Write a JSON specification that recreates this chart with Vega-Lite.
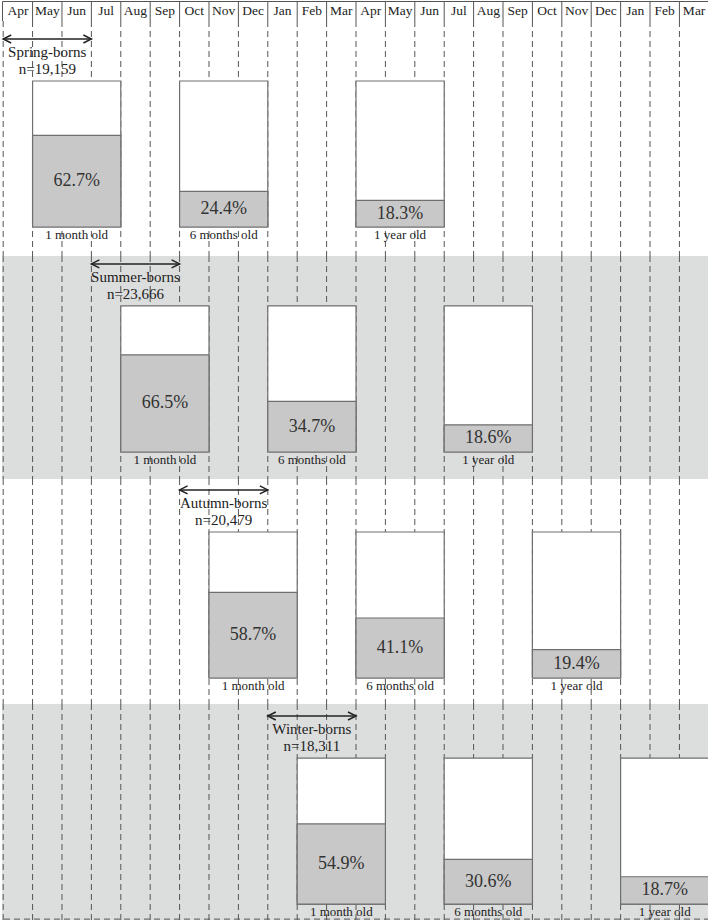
{
  "$schema": "https://vega.github.io/schema/vega-lite/v6.json",
  "padding": 0,
  "spacing": 0,
  "bounds": "flush",
  "background": "white",
  "config": {"view": {"stroke": null}, "concat": {"spacing": 0}, "text": {"font": "Liberation Serif", "color": "#222"}},
  "datasets": {
    "months": [
      {"idx": 0, "month": "Apr"}, {"idx": 1, "month": "May"}, {"idx": 2, "month": "Jun"}, {"idx": 3, "month": "Jul"},
      {"idx": 4, "month": "Aug"}, {"idx": 5, "month": "Sep"}, {"idx": 6, "month": "Oct"}, {"idx": 7, "month": "Nov"},
      {"idx": 8, "month": "Dec"}, {"idx": 9, "month": "Jan"}, {"idx": 10, "month": "Feb"}, {"idx": 11, "month": "Mar"},
      {"idx": 12, "month": "Apr"}, {"idx": 13, "month": "May"}, {"idx": 14, "month": "Jun"}, {"idx": 15, "month": "Jul"},
      {"idx": 16, "month": "Aug"}, {"idx": 17, "month": "Sep"}, {"idx": 18, "month": "Oct"}, {"idx": 19, "month": "Nov"},
      {"idx": 20, "month": "Dec"}, {"idx": 21, "month": "Jan"}, {"idx": 22, "month": "Feb"}, {"idx": 23, "month": "Mar"}
    ],
    "bars": [
      {"cohort": "Spring-borns", "age": "1 month old", "start": 1, "end": 4, "pct": 62.7},
      {"cohort": "Spring-borns", "age": "6 months old", "start": 6, "end": 9, "pct": 24.4},
      {"cohort": "Spring-borns", "age": "1 year old", "start": 12, "end": 15, "pct": 18.3},
      {"cohort": "Summer-borns", "age": "1 month old", "start": 4, "end": 7, "pct": 66.5},
      {"cohort": "Summer-borns", "age": "6 months old", "start": 9, "end": 12, "pct": 34.7},
      {"cohort": "Summer-borns", "age": "1 year old", "start": 15, "end": 18, "pct": 18.6},
      {"cohort": "Autumn-borns", "age": "1 month old", "start": 7, "end": 10, "pct": 58.7},
      {"cohort": "Autumn-borns", "age": "6 months old", "start": 12, "end": 15, "pct": 41.1},
      {"cohort": "Autumn-borns", "age": "1 year old", "start": 18, "end": 21, "pct": 19.4},
      {"cohort": "Winter-borns", "age": "1 month old", "start": 10, "end": 13, "pct": 54.9},
      {"cohort": "Winter-borns", "age": "6 months old", "start": 15, "end": 18, "pct": 30.6},
      {"cohort": "Winter-borns", "age": "1 year old", "start": 21, "end": 24, "pct": 18.7}
    ],
    "cohorts": [
      {"cohort": "Spring-borns", "n": "n=19,159", "start": 0, "end": 3},
      {"cohort": "Summer-borns", "n": "n=23,666", "start": 3, "end": 6},
      {"cohort": "Autumn-borns", "n": "n=20,479", "start": 6, "end": 9},
      {"cohort": "Winter-borns", "n": "n=18,311", "start": 9, "end": 12}
    ],
    "edges": [{"idx": 0}, {"idx": 1}, {"idx": 2}, {"idx": 3}, {"idx": 4}, {"idx": 5}, {"idx": 6}, {"idx": 7}, {"idx": 8}, {"idx": 9}, {"idx": 10}, {"idx": 11}, {"idx": 12}, {"idx": 13}, {"idx": 14}, {"idx": 15}, {"idx": 16}, {"idx": 17}, {"idx": 18}, {"idx": 19}, {"idx": 20}, {"idx": 21}, {"idx": 22}, {"idx": 23}, {"idx": 24}]
  },
  "vconcat": [
    {
      "width": 708, "height": 20,
      "view": {"stroke": "#555", "strokeWidth": 1, "fill": "white"},
      "layer": [
        {"data": {"name": "edges"}, "transform": [{"filter": "datum.idx > 0 && datum.idx < 24"}], "mark": {"type": "rule", "stroke": "#555", "strokeWidth": 1},
         "encoding": {"x": {"field": "idx", "type": "quantitative", "scale": {"domain": [-0.04, 24.04], "nice": false, "zero": false}, "axis": null}}},
        {"data": {"name": "months"}, "transform": [{"calculate": "datum.idx + 0.5", "as": "mid"}], "mark": {"type": "text", "fontSize": 13.5, "baseline": "middle", "dy": 0},
         "encoding": {"x": {"field": "mid", "type": "quantitative"}, "text": {"field": "month", "type": "nominal"}}}
      ]
    },
    {
      "width": 708, "height": 235,
      "view": {"fill": "white", "stroke": null},
      "layer": [
        {"data": {"name": "edges"}, "mark": {"type": "rule", "stroke": "#555", "strokeWidth": 1, "strokeDash": [6, 4]},
         "encoding": {"x": {"field": "idx", "type": "quantitative", "scale": {"domain": [-0.04, 24.04], "nice": false, "zero": false}, "axis": null}}},
        {"data": {"name": "bars"},
         "transform": [{"filter": "datum.cohort === 'Spring-borns'"}, {"calculate": "0", "as": "base"}, {"calculate": "100", "as": "full"}],
         "encoding": {"x": {"field": "start", "type": "quantitative"}, "x2": {"field": "end"}},
         "layer": [
           {"mark": {"type": "rect", "fill": "white", "stroke": "#6f6f6f", "strokeWidth": 1.2},
            "encoding": {"y": {"field": "base", "type": "quantitative", "scale": {"domain": [-19.86, 141.1], "nice": false, "zero": false}, "axis": null}, "y2": {"field": "full"}}},
           {"mark": {"type": "rect", "fill": "#c8c8c8", "stroke": "#6f6f6f", "strokeWidth": 1.2},
            "encoding": {"y": {"field": "base", "type": "quantitative"}, "y2": {"field": "pct"}}}
         ]},
        {"data": {"name": "bars"},
         "transform": [{"filter": "datum.cohort === 'Spring-borns'"}, {"calculate": "-5.5", "as": "below"}, {"calculate": "(datum.start + datum.end) / 2", "as": "mid"}, {"calculate": "datum.pct / 2", "as": "half"}, {"calculate": "format(datum.pct, '.1f') + '%'", "as": "label"}],
         "encoding": {"x": {"field": "mid", "type": "quantitative"}},
         "layer": [
           {"mark": {"type": "text", "fontSize": 18, "baseline": "middle", "color": "#333"},
            "encoding": {"y": {"field": "half", "type": "quantitative"}, "text": {"field": "label", "type": "nominal"}}},
           {"mark": {"type": "text", "fontSize": 13, "baseline": "middle"},
            "encoding": {"y": {"field": "below", "type": "quantitative"}, "text": {"field": "age", "type": "nominal"}}}
         ]},
        {"data": {"name": "cohorts"},
         "transform": [{"filter": "datum.cohort === 'Spring-borns'"}, {"calculate": "128.8", "as": "arrowY"}, {"calculate": "119.9", "as": "nameY"}, {"calculate": "108.2", "as": "nY"}, {"calculate": "(datum.start + datum.end) / 2", "as": "mid"}],
         "layer": [
           {"mark": {"type": "rule", "stroke": "#222", "strokeWidth": 1.5},
            "encoding": {"x": {"field": "start", "type": "quantitative"}, "x2": {"field": "end"}, "y": {"field": "arrowY", "type": "quantitative"}}},
           {"mark": {"type": "point", "shape": "M2,-1L0,0L2,1", "filled": false, "stroke": "#222", "strokeWidth": 1.5, "size": 64, "opacity": 1},
            "encoding": {"x": {"field": "start", "type": "quantitative"}, "y": {"field": "arrowY", "type": "quantitative"}}},
           {"mark": {"type": "point", "shape": "M-2,-1L0,0L-2,1", "filled": false, "stroke": "#222", "strokeWidth": 1.5, "size": 64, "opacity": 1},
            "encoding": {"x": {"field": "end", "type": "quantitative"}, "y": {"field": "arrowY", "type": "quantitative"}}},
           {"mark": {"type": "text", "fontSize": 15, "baseline": "middle"},
            "encoding": {"x": {"field": "mid", "type": "quantitative"}, "y": {"field": "nameY", "type": "quantitative"}, "text": {"field": "cohort", "type": "nominal"}}},
           {"mark": {"type": "text", "fontSize": 15, "baseline": "middle"},
            "encoding": {"x": {"field": "mid", "type": "quantitative"}, "y": {"field": "nY", "type": "quantitative"}, "text": {"field": "n", "type": "nominal"}}}
         ]}
      ]
    },
    {
      "width": 708, "height": 223,
      "view": {"fill": "#dcdddd", "stroke": null},
      "layer": [
        {"data": {"name": "edges"}, "mark": {"type": "rule", "stroke": "#555", "strokeWidth": 1, "strokeDash": [6, 4]},
         "encoding": {"x": {"field": "idx", "type": "quantitative", "scale": {"domain": [-0.04, 24.04], "nice": false, "zero": false}, "axis": null}}},
        {"data": {"name": "bars"},
         "transform": [{"filter": "datum.cohort === 'Summer-borns'"}, {"calculate": "0", "as": "base"}, {"calculate": "100", "as": "full"}],
         "encoding": {"x": {"field": "start", "type": "quantitative"}, "x2": {"field": "end"}},
         "layer": [
           {"mark": {"type": "rect", "fill": "white", "stroke": "#6f6f6f", "strokeWidth": 1.2},
            "encoding": {"y": {"field": "base", "type": "quantitative", "scale": {"domain": [-18.5, 134.2], "nice": false, "zero": false}, "axis": null}, "y2": {"field": "full"}}},
           {"mark": {"type": "rect", "fill": "#c8c8c8", "stroke": "#6f6f6f", "strokeWidth": 1.2},
            "encoding": {"y": {"field": "base", "type": "quantitative"}, "y2": {"field": "pct"}}}
         ]},
        {"data": {"name": "bars"},
         "transform": [{"filter": "datum.cohort === 'Summer-borns'"}, {"calculate": "-5.5", "as": "below"}, {"calculate": "(datum.start + datum.end) / 2", "as": "mid"}, {"calculate": "datum.pct / 2", "as": "half"}, {"calculate": "format(datum.pct, '.1f') + '%'", "as": "label"}],
         "encoding": {"x": {"field": "mid", "type": "quantitative"}},
         "layer": [
           {"mark": {"type": "text", "fontSize": 18, "baseline": "middle", "color": "#333"},
            "encoding": {"y": {"field": "half", "type": "quantitative"}, "text": {"field": "label", "type": "nominal"}}},
           {"mark": {"type": "text", "fontSize": 13, "baseline": "middle"},
            "encoding": {"y": {"field": "below", "type": "quantitative"}, "text": {"field": "age", "type": "nominal"}}}
         ]},
        {"data": {"name": "cohorts"},
         "transform": [{"filter": "datum.cohort === 'Summer-borns'"}, {"calculate": "128.8", "as": "arrowY"}, {"calculate": "119.9", "as": "nameY"}, {"calculate": "108.2", "as": "nY"}, {"calculate": "(datum.start + datum.end) / 2", "as": "mid"}],
         "layer": [
           {"mark": {"type": "rule", "stroke": "#222", "strokeWidth": 1.5},
            "encoding": {"x": {"field": "start", "type": "quantitative"}, "x2": {"field": "end"}, "y": {"field": "arrowY", "type": "quantitative"}}},
           {"mark": {"type": "point", "shape": "M2,-1L0,0L2,1", "filled": false, "stroke": "#222", "strokeWidth": 1.5, "size": 64, "opacity": 1},
            "encoding": {"x": {"field": "start", "type": "quantitative"}, "y": {"field": "arrowY", "type": "quantitative"}}},
           {"mark": {"type": "point", "shape": "M-2,-1L0,0L-2,1", "filled": false, "stroke": "#222", "strokeWidth": 1.5, "size": 64, "opacity": 1},
            "encoding": {"x": {"field": "end", "type": "quantitative"}, "y": {"field": "arrowY", "type": "quantitative"}}},
           {"mark": {"type": "text", "fontSize": 15, "baseline": "middle"},
            "encoding": {"x": {"field": "mid", "type": "quantitative"}, "y": {"field": "nameY", "type": "quantitative"}, "text": {"field": "cohort", "type": "nominal"}}},
           {"mark": {"type": "text", "fontSize": 15, "baseline": "middle"},
            "encoding": {"x": {"field": "mid", "type": "quantitative"}, "y": {"field": "nY", "type": "quantitative"}, "text": {"field": "n", "type": "nominal"}}}
         ]}
      ]
    },
    {
      "width": 708, "height": 225,
      "view": {"fill": "white", "stroke": null},
      "layer": [
        {"data": {"name": "edges"}, "mark": {"type": "rule", "stroke": "#555", "strokeWidth": 1, "strokeDash": [6, 4]},
         "encoding": {"x": {"field": "idx", "type": "quantitative", "scale": {"domain": [-0.04, 24.04], "nice": false, "zero": false}, "axis": null}}},
        {"data": {"name": "bars"},
         "transform": [{"filter": "datum.cohort === 'Autumn-borns'"}, {"calculate": "0", "as": "base"}, {"calculate": "100", "as": "full"}],
         "encoding": {"x": {"field": "start", "type": "quantitative"}, "x2": {"field": "end"}},
         "layer": [
           {"mark": {"type": "rect", "fill": "white", "stroke": "#6f6f6f", "strokeWidth": 1.2},
            "encoding": {"y": {"field": "base", "type": "quantitative", "scale": {"domain": [-17.8, 136.3], "nice": false, "zero": false}, "axis": null}, "y2": {"field": "full"}}},
           {"mark": {"type": "rect", "fill": "#c8c8c8", "stroke": "#6f6f6f", "strokeWidth": 1.2},
            "encoding": {"y": {"field": "base", "type": "quantitative"}, "y2": {"field": "pct"}}}
         ]},
        {"data": {"name": "bars"},
         "transform": [{"filter": "datum.cohort === 'Autumn-borns'"}, {"calculate": "-5.5", "as": "below"}, {"calculate": "(datum.start + datum.end) / 2", "as": "mid"}, {"calculate": "datum.pct / 2", "as": "half"}, {"calculate": "format(datum.pct, '.1f') + '%'", "as": "label"}],
         "encoding": {"x": {"field": "mid", "type": "quantitative"}},
         "layer": [
           {"mark": {"type": "text", "fontSize": 18, "baseline": "middle", "color": "#333"},
            "encoding": {"y": {"field": "half", "type": "quantitative"}, "text": {"field": "label", "type": "nominal"}}},
           {"mark": {"type": "text", "fontSize": 13, "baseline": "middle"},
            "encoding": {"y": {"field": "below", "type": "quantitative"}, "text": {"field": "age", "type": "nominal"}}}
         ]},
        {"data": {"name": "cohorts"},
         "transform": [{"filter": "datum.cohort === 'Autumn-borns'"}, {"calculate": "128.8", "as": "arrowY"}, {"calculate": "119.9", "as": "nameY"}, {"calculate": "108.2", "as": "nY"}, {"calculate": "(datum.start + datum.end) / 2", "as": "mid"}],
         "layer": [
           {"mark": {"type": "rule", "stroke": "#222", "strokeWidth": 1.5},
            "encoding": {"x": {"field": "start", "type": "quantitative"}, "x2": {"field": "end"}, "y": {"field": "arrowY", "type": "quantitative"}}},
           {"mark": {"type": "point", "shape": "M2,-1L0,0L2,1", "filled": false, "stroke": "#222", "strokeWidth": 1.5, "size": 64, "opacity": 1},
            "encoding": {"x": {"field": "start", "type": "quantitative"}, "y": {"field": "arrowY", "type": "quantitative"}}},
           {"mark": {"type": "point", "shape": "M-2,-1L0,0L-2,1", "filled": false, "stroke": "#222", "strokeWidth": 1.5, "size": 64, "opacity": 1},
            "encoding": {"x": {"field": "end", "type": "quantitative"}, "y": {"field": "arrowY", "type": "quantitative"}}},
           {"mark": {"type": "text", "fontSize": 15, "baseline": "middle"},
            "encoding": {"x": {"field": "mid", "type": "quantitative"}, "y": {"field": "nameY", "type": "quantitative"}, "text": {"field": "cohort", "type": "nominal"}}},
           {"mark": {"type": "text", "fontSize": 15, "baseline": "middle"},
            "encoding": {"x": {"field": "mid", "type": "quantitative"}, "y": {"field": "nY", "type": "quantitative"}, "text": {"field": "n", "type": "nominal"}}}
         ]}
      ]
    },
    {
      "width": 708, "height": 217,
      "view": {"fill": "#dcdddd", "stroke": null},
      "layer": [
        {"data": {"name": "edges"}, "mark": {"type": "rule", "stroke": "#555", "strokeWidth": 1, "strokeDash": [6, 4]},
         "encoding": {"x": {"field": "idx", "type": "quantitative", "scale": {"domain": [-0.04, 24.04], "nice": false, "zero": false}, "axis": null}}},
        {"data": {"name": "bars"},
         "transform": [{"filter": "datum.cohort === 'Winter-borns'"}, {"calculate": "0", "as": "base"}, {"calculate": "100", "as": "full"}],
         "encoding": {"x": {"field": "start", "type": "quantitative"}, "x2": {"field": "end"}},
         "layer": [
           {"mark": {"type": "rect", "fill": "white", "stroke": "#6f6f6f", "strokeWidth": 1.2},
            "encoding": {"y": {"field": "base", "type": "quantitative", "scale": {"domain": [-11.6, 137.0], "nice": false, "zero": false}, "axis": null}, "y2": {"field": "full"}}},
           {"mark": {"type": "rect", "fill": "#c8c8c8", "stroke": "#6f6f6f", "strokeWidth": 1.2},
            "encoding": {"y": {"field": "base", "type": "quantitative"}, "y2": {"field": "pct"}}}
         ]},
        {"data": {"name": "bars"},
         "transform": [{"filter": "datum.cohort === 'Winter-borns'"}, {"calculate": "-5.5", "as": "below"}, {"calculate": "(datum.start + datum.end) / 2", "as": "mid"}, {"calculate": "datum.pct / 2", "as": "half"}, {"calculate": "format(datum.pct, '.1f') + '%'", "as": "label"}],
         "encoding": {"x": {"field": "mid", "type": "quantitative"}},
         "layer": [
           {"mark": {"type": "text", "fontSize": 18, "baseline": "middle", "color": "#333"},
            "encoding": {"y": {"field": "half", "type": "quantitative"}, "text": {"field": "label", "type": "nominal"}}},
           {"mark": {"type": "text", "fontSize": 13, "baseline": "middle"},
            "encoding": {"y": {"field": "below", "type": "quantitative"}, "text": {"field": "age", "type": "nominal"}}}
         ]},
        {"data": {"name": "cohorts"},
         "transform": [{"filter": "datum.cohort === 'Winter-borns'"}, {"calculate": "128.8", "as": "arrowY"}, {"calculate": "119.9", "as": "nameY"}, {"calculate": "108.2", "as": "nY"}, {"calculate": "-10.3", "as": "bottomY"}, {"calculate": "(datum.start + datum.end) / 2", "as": "mid"}],
         "layer": [
           {"mark": {"type": "rule", "stroke": "#555", "strokeWidth": 1, "strokeDash": [6, 4]},
            "encoding": {"y": {"field": "bottomY", "type": "quantitative"}}},
           {"mark": {"type": "rule", "stroke": "#222", "strokeWidth": 1.5},
            "encoding": {"x": {"field": "start", "type": "quantitative"}, "x2": {"field": "end"}, "y": {"field": "arrowY", "type": "quantitative"}}},
           {"mark": {"type": "point", "shape": "M2,-1L0,0L2,1", "filled": false, "stroke": "#222", "strokeWidth": 1.5, "size": 64, "opacity": 1},
            "encoding": {"x": {"field": "start", "type": "quantitative"}, "y": {"field": "arrowY", "type": "quantitative"}}},
           {"mark": {"type": "point", "shape": "M-2,-1L0,0L-2,1", "filled": false, "stroke": "#222", "strokeWidth": 1.5, "size": 64, "opacity": 1},
            "encoding": {"x": {"field": "end", "type": "quantitative"}, "y": {"field": "arrowY", "type": "quantitative"}}},
           {"mark": {"type": "text", "fontSize": 15, "baseline": "middle"},
            "encoding": {"x": {"field": "mid", "type": "quantitative"}, "y": {"field": "nameY", "type": "quantitative"}, "text": {"field": "cohort", "type": "nominal"}}},
           {"mark": {"type": "text", "fontSize": 15, "baseline": "middle"},
            "encoding": {"x": {"field": "mid", "type": "quantitative"}, "y": {"field": "nY", "type": "quantitative"}, "text": {"field": "n", "type": "nominal"}}}
         ]}
      ]
    }
  ]
}
